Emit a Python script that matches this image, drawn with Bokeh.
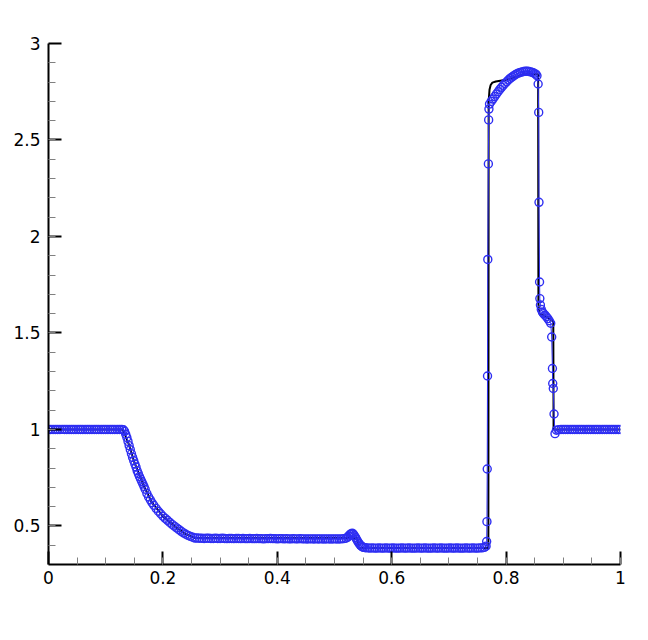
from bokeh.plotting import figure
from bokeh.models import Range1d, FixedTicker, CustomJSTickFormatter
from bokeh.embed import file_html
from bokeh.resources import INLINE

# ---------------- data ----------------
# numerical solution (blue circles), (x, density) per segment
left_state = [
    (0.000, 1.000), (0.004, 1.000), (0.008, 1.000), (0.012, 1.000), (0.016, 1.000), (0.020, 1.000),
    (0.024, 1.000), (0.028, 1.000), (0.032, 1.000), (0.036, 1.000), (0.040, 1.000), (0.044, 1.000),
    (0.048, 1.000), (0.052, 1.000), (0.056, 1.000), (0.060, 1.000), (0.064, 1.000), (0.068, 1.000),
    (0.072, 1.000), (0.076, 1.000), (0.080, 1.000), (0.084, 1.000), (0.088, 1.000), (0.092, 1.000),
    (0.096, 1.000), (0.100, 1.000), (0.104, 1.000), (0.108, 1.000), (0.112, 1.000), (0.116, 1.000),
    (0.120, 1.000), (0.124, 1.000), (0.128, 1.000)]

rarefaction = [
    (0.131, 0.998), (0.133, 0.990), (0.135, 0.975), (0.137, 0.958), (0.139, 0.938), (0.141, 0.916),
    (0.143, 0.895), (0.145, 0.874), (0.147, 0.855), (0.149, 0.838), (0.151, 0.821), (0.153, 0.805),
    (0.155, 0.786), (0.157, 0.771), (0.159, 0.756), (0.161, 0.743), (0.163, 0.730), (0.165, 0.717),
    (0.167, 0.704), (0.169, 0.690), (0.172, 0.668), (0.175, 0.650), (0.178, 0.635), (0.181, 0.620),
    (0.184, 0.607), (0.188, 0.591), (0.192, 0.576), (0.196, 0.563), (0.200, 0.550), (0.204, 0.539),
    (0.208, 0.529), (0.212, 0.518), (0.216, 0.508), (0.220, 0.499), (0.224, 0.490), (0.228, 0.481),
    (0.232, 0.472), (0.236, 0.464), (0.240, 0.457), (0.244, 0.451), (0.248, 0.446), (0.252, 0.441),
    (0.256, 0.437)]

plateau = [
    (0.260, 0.437), (0.264, 0.436), (0.268, 0.436), (0.272, 0.435), (0.276, 0.436), (0.280, 0.436),
    (0.284, 0.435), (0.288, 0.435), (0.292, 0.436), (0.296, 0.435), (0.300, 0.435), (0.304, 0.436),
    (0.308, 0.435), (0.312, 0.434), (0.316, 0.435), (0.320, 0.435), (0.324, 0.434), (0.328, 0.435),
    (0.332, 0.435), (0.336, 0.434), (0.340, 0.435), (0.344, 0.434), (0.348, 0.434), (0.352, 0.435),
    (0.356, 0.434), (0.360, 0.434), (0.364, 0.435), (0.368, 0.434), (0.372, 0.434), (0.376, 0.433),
    (0.380, 0.434), (0.384, 0.434), (0.388, 0.435), (0.392, 0.434), (0.396, 0.434), (0.400, 0.433),
    (0.404, 0.434), (0.408, 0.434), (0.412, 0.433), (0.416, 0.434), (0.420, 0.433), (0.424, 0.433),
    (0.428, 0.434), (0.432, 0.433), (0.436, 0.433), (0.440, 0.434), (0.444, 0.433), (0.448, 0.433),
    (0.452, 0.432), (0.456, 0.433), (0.460, 0.433), (0.464, 0.432), (0.468, 0.433), (0.472, 0.432),
    (0.476, 0.433), (0.480, 0.432), (0.484, 0.432), (0.488, 0.433), (0.492, 0.432), (0.496, 0.432),
    (0.500, 0.433), (0.504, 0.432), (0.508, 0.432), (0.512, 0.433), (0.516, 0.434), (0.520, 0.436)]

contact = [
    (0.523, 0.441), (0.525, 0.448), (0.527, 0.455), (0.529, 0.460), (0.531, 0.462), (0.533, 0.458),
    (0.535, 0.449), (0.537, 0.439), (0.539, 0.428), (0.541, 0.418), (0.543, 0.409), (0.545, 0.401),
    (0.547, 0.395), (0.549, 0.391), (0.551, 0.389), (0.554, 0.387)]

low_state = [
    (0.558, 0.386), (0.562, 0.385), (0.566, 0.386), (0.570, 0.385), (0.574, 0.385), (0.578, 0.386),
    (0.582, 0.385), (0.586, 0.385), (0.590, 0.386), (0.594, 0.385), (0.598, 0.385), (0.602, 0.386),
    (0.606, 0.385), (0.610, 0.385), (0.614, 0.385), (0.618, 0.386), (0.622, 0.385), (0.626, 0.385),
    (0.630, 0.386), (0.634, 0.385), (0.638, 0.385), (0.642, 0.385), (0.646, 0.386), (0.650, 0.385),
    (0.654, 0.385), (0.658, 0.386), (0.662, 0.385), (0.666, 0.385), (0.670, 0.385), (0.674, 0.386),
    (0.678, 0.385), (0.682, 0.385), (0.686, 0.386), (0.690, 0.385), (0.694, 0.385), (0.698, 0.385),
    (0.702, 0.386), (0.706, 0.385), (0.710, 0.385), (0.714, 0.386), (0.718, 0.385), (0.722, 0.385),
    (0.726, 0.385), (0.730, 0.386), (0.734, 0.385), (0.738, 0.385), (0.742, 0.386), (0.746, 0.385),
    (0.750, 0.385), (0.754, 0.386), (0.758, 0.386), (0.762, 0.389)]

shock_region = [
    (0.7650, 0.395), (0.7660, 0.419), (0.7665, 0.522), (0.7670, 0.795), (0.7675, 1.277),
    (0.7680, 1.881), (0.7690, 2.376), (0.7695, 2.604), (0.7700, 2.660), (0.7710, 2.686),
    (0.7740, 2.700), (0.7770, 2.712), (0.7800, 2.725), (0.7830, 2.738), (0.7860, 2.750),
    (0.7890, 2.762), (0.7920, 2.773), (0.7950, 2.783), (0.7980, 2.793), (0.8010, 2.802),
    (0.8040, 2.811), (0.8070, 2.819), (0.8100, 2.826), (0.8130, 2.832), (0.8160, 2.838),
    (0.8190, 2.843), (0.8220, 2.847), (0.8250, 2.850), (0.8280, 2.853), (0.8310, 2.855),
    (0.8340, 2.856), (0.8370, 2.856), (0.8400, 2.855), (0.8430, 2.853), (0.8460, 2.850),
    (0.8490, 2.846), (0.8520, 2.841), (0.8540, 2.833), (0.8560, 2.790), (0.8570, 2.643),
    (0.8575, 2.177), (0.8585, 1.764), (0.8590, 1.678), (0.8600, 1.645), (0.8615, 1.622),
    (0.8635, 1.608), (0.8655, 1.600), (0.8680, 1.592), (0.8705, 1.584), (0.8730, 1.574),
    (0.8755, 1.563), (0.8780, 1.550), (0.8797, 1.479), (0.8810, 1.316), (0.8815, 1.238),
    (0.8825, 1.212), (0.8838, 1.080), (0.8855, 0.978)]

right_state = [
    (0.888, 0.996), (0.892, 0.999), (0.896, 1.000), (0.900, 1.000), (0.904, 1.000), (0.908, 1.000),
    (0.912, 1.000), (0.916, 1.000), (0.920, 1.000), (0.924, 1.000), (0.928, 1.000), (0.932, 1.000),
    (0.936, 1.000), (0.940, 1.000), (0.944, 1.000), (0.948, 1.000), (0.952, 1.000), (0.956, 1.000),
    (0.960, 1.000), (0.964, 1.000), (0.968, 1.000), (0.972, 1.000), (0.976, 1.000), (0.980, 1.000),
    (0.984, 1.000), (0.988, 1.000), (0.992, 1.000), (0.996, 1.000), (1.000, 1.000)]

numerical = left_state + rarefaction + plateau + contact + low_state + shock_region + right_state
num_x = [pt[0] for pt in numerical]
num_y = [pt[1] for pt in numerical]

# reference solution (black line)
exact_x = [0.0, 0.130, 0.140, 0.150, 0.165, 0.180, 0.200, 0.220, 0.240, 0.256,
           0.540, 0.541, 0.769, 0.7695, 0.771, 0.773, 0.776, 0.782, 0.800, 0.830,
           0.856, 0.8565, 0.858, 0.870, 0.8825, 0.883, 1.0]
exact_y = [1.0, 1.0, 0.927, 0.830, 0.717, 0.625, 0.550, 0.499, 0.457, 0.437,
           0.437, 0.386, 0.386, 2.700, 2.760, 2.785, 2.797, 2.803, 2.812, 2.840,
           2.840, 1.650, 1.600, 1.585, 1.560, 1.000, 1.0]

# axes ticks
x_ticks = [0.0, 0.2, 0.4, 0.6, 0.8, 1.0]
x_tick_labels = ["0", "0.2", "0.4", "0.6", "0.8", "1"]
y_ticks = [0.5, 1.0, 1.5, 2.0, 2.5, 3.0]
y_tick_labels = ["0.5", "1", "1.5", "2", "2.5", "3"]
x_minor = [round(0.05 * i, 2) for i in range(21)]
y_minor = [round(0.4 + 0.1 * i, 1) for i in range(26)]

BLUE = "#2e2ef2"

# ---------------- figure ----------------
p = figure(frame_width=572, frame_height=521,
           x_range=Range1d(0, 1), y_range=Range1d(0.3, 3),
           output_backend="svg", toolbar_location=None,
           min_border_left=48, min_border_top=43,
           min_border_right=10, min_border_bottom=45)
p.xgrid.visible = False
p.ygrid.visible = False
p.outline_line_color = None
p.background_fill_color = "white"
p.border_fill_color = "white"

p.line(exact_x, exact_y, line_color="black", line_width=2)
p.line(num_x, num_y, line_color=BLUE, line_width=1)
p.scatter(num_x, num_y, marker="circle", size=8, fill_color=None,
          line_color=BLUE, line_width=1.4)

code = ("for (let i = 0; i < tv.length; i++) {"
        " if (Math.abs(tv[i] - tick) < 1e-6) return lbl[i]; }"
        " return '';")
p.xaxis.ticker = FixedTicker(ticks=x_ticks, minor_ticks=x_minor)
p.yaxis.ticker = FixedTicker(ticks=y_ticks, minor_ticks=y_minor)
p.xaxis.formatter = CustomJSTickFormatter(args=dict(tv=x_ticks, lbl=x_tick_labels), code=code)
p.yaxis.formatter = CustomJSTickFormatter(args=dict(tv=y_ticks, lbl=y_tick_labels), code=code)

for ax in (p.xaxis[0], p.yaxis[0]):
    ax.axis_line_width = 2
    ax.axis_line_color = "black"
    ax.major_tick_in = 13
    ax.major_tick_out = 0
    ax.minor_tick_in = 7
    ax.minor_tick_out = 0
    ax.major_tick_line_width = 2
    ax.major_tick_line_color = "black"
    ax.minor_tick_line_color = "#808080"
    ax.minor_tick_line_width = 1
    ax.major_label_text_font = "DejaVu Sans"
    ax.major_label_text_font_size = "17px"
    ax.major_label_text_color = "black"
p.xaxis.major_label_standoff = 6
p.yaxis.major_label_standoff = 8

open("out.html", "w").write(file_html(p, INLINE))
